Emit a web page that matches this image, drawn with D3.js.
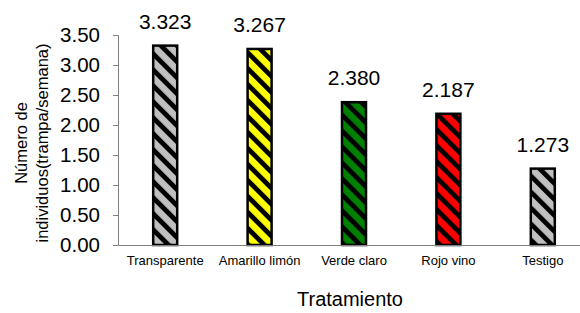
<!DOCTYPE html>
<html><head><meta charset="utf-8">
<script src="https://cdn.jsdelivr.net/npm/d3@7"></script>
<style>body{margin:0;background:#fff}svg{display:block;font-family:"Liberation Sans",Arial,sans-serif}</style>
</head><body><svg id="c" width="580" height="313"></svg>
<script>
const categories = ["Transparente","Amarillo limón","Verde claro","Rojo vino","Testigo"];
const values = [3.323, 3.267, 2.380, 2.187, 1.273];
const valueLabels = ["3.323","3.267","2.380","2.187","1.273"];
const colors = ["#C0C0C0","#FFFF00","#008000","#FF0000","#C0C0C0"];
const yTicks = [0,0.5,1,1.5,2,2.5,3,3.5];

const svg = d3.select("#c");
const x = d3.scaleBand().domain(categories).range([118, 590]).padding(0);
const y = d3.scaleLinear().domain([0,3.5]).range([245, 35]);

const defs = svg.append("defs");
colors.forEach((c,i)=>{
  const p = defs.append("pattern").attr("id","h"+i).attr("patternUnits","userSpaceOnUse")
    .attr("width",11.3).attr("height",11.3).attr("patternTransform","rotate(-45)");
  p.append("rect").attr("width",11.3).attr("height",11.3).attr("fill",c);
  p.append("rect").attr("width",4.8).attr("height",11.3).attr("fill","#000");
});

const bw = 24;
svg.selectAll("rect.bar").data(values).join("rect").attr("class","bar")
  .attr("x",(d,i)=>x(categories[i])+x.bandwidth()/2-bw/2)
  .attr("y",d=>y(d)).attr("width",bw).attr("height",d=>y(0)-y(d))
  .attr("fill",(d,i)=>`url(#h${i})`).attr("stroke","#000").attr("stroke-width",2.5);

svg.selectAll("text.val").data(values).join("text").attr("class","val")
  .attr("x",(d,i)=>x(categories[i])+x.bandwidth()/2).attr("y",d=>y(d)-17)
  .attr("text-anchor","middle").attr("font-size",21).text((d,i)=>valueLabels[i]);

const ya = svg.append("g").attr("transform","translate(118,0)")
  .call(d3.axisLeft(y).tickValues(yTicks).tickFormat(d3.format(".2f")).tickSize(5).tickPadding(13));
ya.select(".domain").attr("stroke","#808080");
ya.selectAll(".tick line").attr("stroke","#808080");
ya.selectAll("text").attr("font-size",20.5).attr("fill","#000").attr("font-family","Liberation Sans, Arial, sans-serif");

const xa = svg.append("g").attr("transform","translate(0,245)")
  .call(d3.axisBottom(x).tickSize(0).tickPadding(11));
xa.select(".domain").attr("stroke","#808080");
xa.selectAll("text").attr("font-size",13).attr("fill","#000").attr("font-family","Liberation Sans, Arial, sans-serif");

svg.append("text").attr("x",350).attr("y",306).attr("text-anchor","middle").attr("font-size",20).text("Tratamiento");
const yt = svg.append("text").attr("transform","translate(0,143) rotate(-90)").attr("text-anchor","middle").attr("font-size",16.5);
yt.append("tspan").attr("x",0).attr("y",27).text("Número de");
yt.append("tspan").attr("x",0).attr("y",48).text("individuos(trampa/semana)");
</script></body></html>
